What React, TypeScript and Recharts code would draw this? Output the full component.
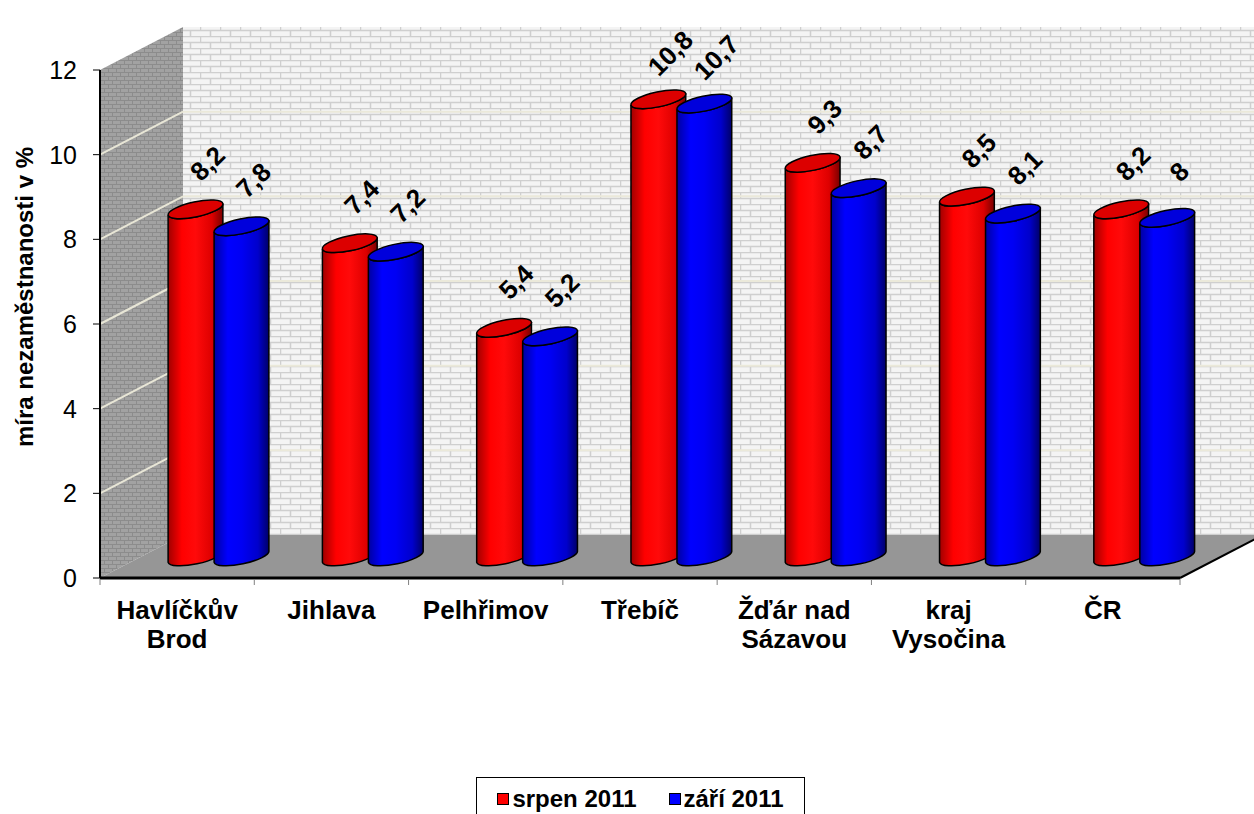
import React from "react";
import { BarChart, Bar, XAxis, YAxis, CartesianGrid, Legend, LabelList } from "recharts";

// popisky kategorií (\n = zalomení řádku)
const categories = [
  "Havlíčkův\nBrod",
  "Jihlava",
  "Pelhřimov",
  "Třebíč",
  "Žďár nad\nSázavou",
  "kraj\nVysočina",
  "ČR",
];
const srpen2011 = [8.2, 7.4, 5.4, 10.8, 9.3, 8.5, 8.2];
const zari2011 = [7.8, 7.2, 5.2, 10.7, 8.7, 8.1, 8.0];
const yTicks = [0, 2, 4, 6, 8, 10, 12];

const data = categories.map((name, i) => ({
  name,
  srpen: srpen2011[i],
  zari: zari2011[i],
}));

const W = 1254;
const H = 814;
const LEFT = 100;
const RIGHT = 1180;
const TOP = 70;
const BOTTOM = 578;
const DEPTH_X = 83;
const DEPTH_Y = 43;
const FONT = "Arial, 'Liberation Sans', sans-serif";

const fmt = (v: number) => String(v).replace(".", ",");

const gradientFor: Record<string, string> = {
  "#ff0000": "url(#cylRed)",
  "#0000ff": "url(#cylBlue)",
};
const topFor: Record<string, string> = {
  "#ff0000": "#dc0000",
  "#0000ff": "#0000dc",
};

// válec posunutý do poloviny hloubky
function Cylinder(props: any) {
  const { x, y, width, height, fill } = props;
  if (!width || height == null) return null;
  const rx = width / 2;
  const ry = 7.5;
  const a = -12;
  const rad = (a * Math.PI) / 180;
  const cx = x + rx + DEPTH_X / 2;
  const yt = y - DEPTH_Y / 2;
  const yb = y + height - DEPTH_Y / 2;
  const ex = rx * Math.cos(rad);
  const ey = rx * Math.sin(rad);
  const d =
    `M${cx - ex},${yt - ey} L${cx - ex},${yb - ey} ` +
    `A${rx},${ry} ${a} 0 0 ${cx + ex},${yb + ey} ` +
    `L${cx + ex},${yt + ey} A${rx},${ry} ${a} 0 1 ${cx - ex},${yt - ey} Z`;
  return (
    <g>
      <path d={d} fill={gradientFor[fill] ?? fill} stroke="#000" strokeWidth={1.5} />
      <ellipse
        cx={cx}
        cy={yt}
        rx={rx}
        ry={ry}
        transform={`rotate(${a} ${cx} ${yt})`}
        fill={topFor[fill] ?? fill}
        stroke="#000"
        strokeWidth={1.5}
      />
    </g>
  );
}

const renderValue = (props: any) => {
  const vb = props.viewBox ?? props;
  const x = vb.x ?? props.x;
  const y = vb.y ?? props.y;
  const width = vb.width ?? props.width;
  const cx = x + width / 2 + DEPTH_X / 2 + 12;
  const cy = y - DEPTH_Y / 2 - 46;
  return (
    <text
      x={cx}
      y={cy}
      transform={`rotate(-45 ${cx} ${cy})`}
      textAnchor="middle"
      dominantBaseline="central"
      fontSize={26}
      fontWeight="bold"
      fontFamily={FONT}
      fill="#000"
    >
      {fmt(props.value)}
    </text>
  );
};

const XTick = (props: any) => {
  const { x, payload } = props;
  const lines = String(payload.value).split("\n");
  const band = (RIGHT - LEFT) / categories.length;
  return (
    <g>
      <line x1={x + band / 2} x2={x + band / 2} y1={BOTTOM + 1} y2={BOTTOM + 7} stroke="#808080" />
      {props.index === 0 && (
        <line x1={x - band / 2} x2={x - band / 2} y1={BOTTOM + 1} y2={BOTTOM + 7} stroke="#808080" />
      )}
      <text x={x} y={BOTTOM + 41} textAnchor="middle" fontSize={26} fontWeight="bold" fontFamily={FONT} fill="#000">
        {lines.map((l, i) => (
          <tspan key={i} x={x} dy={i === 0 ? 0 : 29}>
            {l}
          </tspan>
        ))}
      </text>
    </g>
  );
};

// čáry mřížky: šikmo po boční stěně a vodorovně po zadní
const gridLine = (p: any) => {
  const { x1, x2, y1 } = p;
  if (Math.abs(y1 - TOP) < 1 || Math.abs(y1 - BOTTOM) < 1) return <g key={p.key} />;
  return (
    <g key={p.key}>
      <line x1={x1} y1={y1} x2={x1 + DEPTH_X} y2={y1 - DEPTH_Y} stroke="#e8e6d6" strokeWidth={2} />
      <line x1={x1 + DEPTH_X} y1={y1 - DEPTH_Y} x2={x2 + DEPTH_X} y2={y1 - DEPTH_Y} stroke="#ebe9da" strokeWidth={2} />
    </g>
  );
};

const renderLegend = (props: any) => (
  <div
    style={{
      border: "1px solid #000",
      background: "#fff",
      height: 44,
      boxSizing: "border-box",
      display: "flex",
      alignItems: "center",
      justifyContent: "center",
      gap: 32,
      fontFamily: FONT,
      fontWeight: "bold",
      fontSize: 24,
      color: "#000",
    }}
  >
    {(props.payload ?? []).map((e: any) => (
      <span key={e.value} style={{ display: "flex", alignItems: "center", gap: 3 }}>
        <span style={{ width: 10, height: 10, background: e.color, border: "1px solid #000", display: "inline-block" }} />
        {e.value}
      </span>
    ))}
  </div>
);

function Backdrop() {
  return (
    <svg width={W} height={H} style={{ position: "absolute", left: 0, top: 0 }}>
      <defs>
        <linearGradient id="cylRed" x1="0" y1="0" x2="1" y2="0">
          <stop offset="0%" stopColor="#a00000" />
          <stop offset="25%" stopColor="#ff0000" />
          <stop offset="50%" stopColor="#ff0a0a" />
          <stop offset="80%" stopColor="#dd0000" />
          <stop offset="100%" stopColor="#780000" />
        </linearGradient>
        <linearGradient id="cylBlue" x1="0" y1="0" x2="1" y2="0">
          <stop offset="0%" stopColor="#0000a0" />
          <stop offset="25%" stopColor="#0000ff" />
          <stop offset="50%" stopColor="#0000f4" />
          <stop offset="80%" stopColor="#0000cc" />
          <stop offset="100%" stopColor="#000068" />
        </linearGradient>
        <pattern id="brickBack" width="20" height="12" patternUnits="userSpaceOnUse">
          <rect width="20" height="12" fill="#f4f4f4" />
          <path d="M0 0.5H20 M0 6.5H20 M0.5 0V6 M10.5 6V12" stroke="#cfcfcf" strokeWidth="1.5" />
        </pattern>
        <pattern id="brickSide" width="8" height="8" patternUnits="userSpaceOnUse">
          <rect width="8" height="8" fill="#a2a2a2" />
          <path d="M0 0.5H8 M0 4.5H8 M0.5 0V4 M4.5 4V8" stroke="#8c8c8c" strokeWidth="1" />
        </pattern>
      </defs>
      <rect x={LEFT + DEPTH_X} y={TOP - DEPTH_Y} width={W - LEFT - DEPTH_X} height={BOTTOM - TOP} fill="url(#brickBack)" />
      <polygon
        points={`${LEFT},${TOP} ${LEFT + DEPTH_X},${TOP - DEPTH_Y} ${LEFT + DEPTH_X},${BOTTOM - DEPTH_Y} ${LEFT},${BOTTOM}`}
        fill="url(#brickSide)"
      />
      <polygon
        points={`${LEFT},${BOTTOM} ${LEFT + DEPTH_X},${BOTTOM - DEPTH_Y} ${RIGHT + DEPTH_X},${BOTTOM - DEPTH_Y} ${RIGHT},${BOTTOM}`}
        fill="#969696"
      />
      <line x1={RIGHT} y1={BOTTOM} x2={RIGHT + DEPTH_X} y2={BOTTOM - DEPTH_Y} stroke="#000" strokeWidth={2} />
    </svg>
  );
}

export default function App() {
  return (
    <div style={{ position: "absolute", left: 0, top: 0, width: W, height: H, background: "#fff", overflow: "hidden" }}>
      <Backdrop />
      <div style={{ position: "absolute", left: 0, top: 0 }}>
        <BarChart
          width={W}
          height={H}
          data={data}
          margin={{ top: TOP, right: W - RIGHT, bottom: H - BOTTOM - 60, left: LEFT - 60 }}
          barSize={56}
          barGap={-10}
        >
          <CartesianGrid horizontal={gridLine} vertical={false} />
          <XAxis
            dataKey="name"
            height={60}
            interval={0}
            tick={<XTick />}
            tickLine={false}
            axisLine={{ stroke: "#000", strokeWidth: 3 }}
          />
          <YAxis
            width={60}
            domain={[0, 12]}
            ticks={yTicks}
            interval={0}
            tickSize={7}
            tickMargin={16}
            tick={{ fontSize: 25, fill: "#000", fontFamily: FONT }}
            tickLine={{ stroke: "#000" }}
            axisLine={{ stroke: "#000", strokeWidth: 2 }}
            label={{
              content: () => (
                <text
                  transform="translate(33 297) rotate(-90)"
                  textAnchor="middle"
                  fontSize={24}
                  fontWeight="bold"
                  fontFamily={FONT}
                  fill="#000"
                >
                  míra nezaměstnanosti v %
                </text>
              ),
            }}
          />
          <Legend
            verticalAlign="middle"
            align="center"
            layout="horizontal"
            content={renderLegend}
            wrapperStyle={{ top: 777, left: 476, width: 329, height: 44 }}
          />
          <Bar dataKey="srpen" name="srpen 2011" fill="#ff0000" shape={<Cylinder />} isAnimationActive={false}>
            <LabelList dataKey="srpen" content={renderValue} />
          </Bar>
          <Bar dataKey="zari" name="září 2011" fill="#0000ff" shape={<Cylinder />} isAnimationActive={false}>
            <LabelList dataKey="zari" content={renderValue} />
          </Bar>
        </BarChart>
      </div>
    </div>
  );
}
